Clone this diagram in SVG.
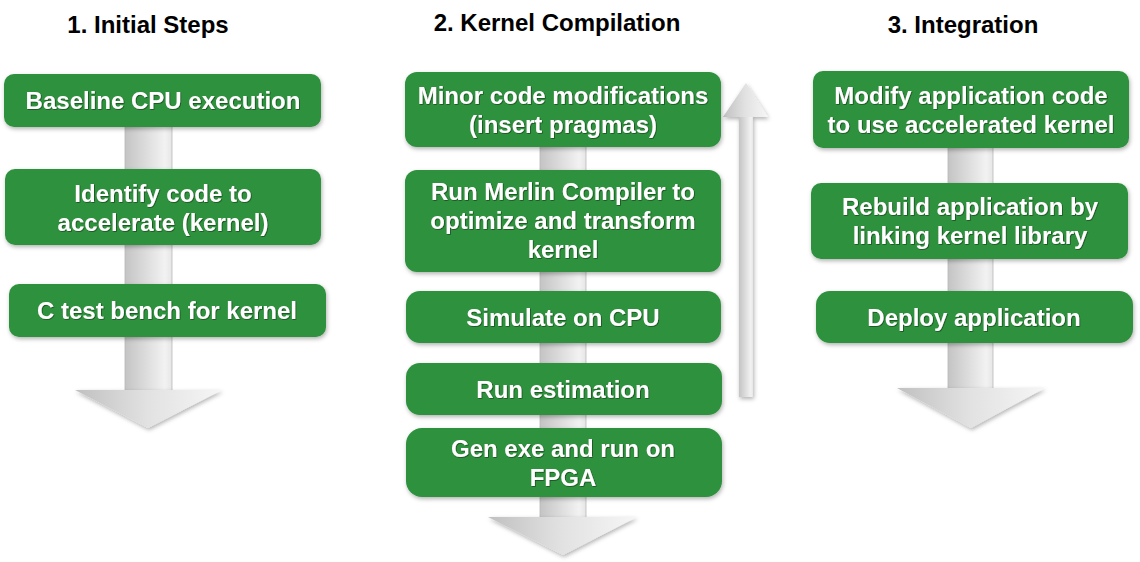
<svg xmlns="http://www.w3.org/2000/svg" width="1140" height="562" viewBox="0 0 1140 562">
<defs>
<linearGradient id="shaft" x1="0" y1="0" x2="1" y2="0">
<stop offset="0" stop-color="#c4c4c4"/>
<stop offset="0.85" stop-color="#f2f2f2"/>
<stop offset="1" stop-color="#e6e6e6"/>
</linearGradient>
<linearGradient id="head" x1="0" y1="0" x2="1" y2="0">
<stop offset="0" stop-color="#c0c0c0"/>
<stop offset="0.5" stop-color="#e2e2e2"/>
<stop offset="1" stop-color="#f6f6f6"/>
</linearGradient>
<filter id="sh" x="-10%" y="-20%" width="120%" height="150%">
<feDropShadow dx="1" dy="2" stdDeviation="2" flood-color="#000" flood-opacity="0.3"/>
</filter>
<filter id="ts" x="-5%" y="-20%" width="110%" height="150%">
<feDropShadow dx="0.7" dy="0.7" stdDeviation="0.4" flood-color="#0a3010" flood-opacity="0.8"/>
</filter>
</defs>
<style>
.title{font-family:"Liberation Sans",Arial,sans-serif;font-weight:bold;font-size:24px;fill:#000;text-anchor:middle}
.box{fill:#2e913e;filter:url(#sh)}
.lbl{font-family:"Liberation Sans",Arial,sans-serif;font-weight:bold;font-size:24px;fill:#fff;text-anchor:middle;filter:url(#ts)}
.shaft{fill:url(#shaft);stroke:#b8b8b8;stroke-width:0.8}
.head{fill:url(#head)}
</style>
<rect width="1140" height="562" fill="#fff"/>
<text class="title" x="148" y="33">1. Initial Steps</text>
<text class="title" x="557" y="31">2. Kernel Compilation</text>
<text class="title" x="963" y="33">3. Integration</text>
<g id="connectors">
<rect class="shaft" x="125" y="110" width="47" height="282"/>
<polygon class="head" points="75,390 222,390 148,428" filter="url(#sh)"/>
<rect class="shaft" x="540" y="130" width="46" height="390"/>
<polygon class="head" points="488,517 637,517 563,555" filter="url(#sh)"/>
<rect class="shaft" x="948" y="130" width="45" height="260"/>
<polygon class="head" points="897,388 1045,388 971,428" filter="url(#sh)"/>
<g filter="url(#sh)">
<rect x="739" y="115" width="14" height="282" fill="url(#shaft)"/>
<polygon points="746,83 768,117 723,117" fill="url(#head)"/>
</g>
</g>
<g id="n1"><rect class="box" x="4" y="74" width="317" height="53" rx="10"/><text class="lbl" x="163" y="109">Baseline CPU execution</text></g>
<g id="n2"><rect class="box" x="5" y="169" width="316" height="76" rx="10"/><text class="lbl" x="163" y="202">Identify code to</text><text class="lbl" x="163" y="231">accelerate (kernel)</text></g>
<g id="n3"><rect class="box" x="9" y="284" width="317" height="53" rx="10"/><text class="lbl" x="167" y="319">C test bench for kernel</text></g>
<g id="n4"><rect class="box" x="405" y="72" width="316" height="75" rx="12"/><text class="lbl" x="563" y="104">Minor code modifications</text><text class="lbl" x="563" y="133">(insert pragmas)</text></g>
<g id="n5"><rect class="box" x="405" y="170" width="316" height="102" rx="12"/><text class="lbl" x="563" y="200">Run Merlin Compiler to</text><text class="lbl" x="563" y="229">optimize and transform</text><text class="lbl" x="563" y="258">kernel</text></g>
<g id="n6"><rect class="box" x="406" y="291" width="315" height="52" rx="14"/><text class="lbl" x="563" y="326">Simulate on CPU</text></g>
<g id="n7"><rect class="box" x="406" y="363" width="316" height="52" rx="14"/><text class="lbl" x="563" y="398">Run estimation</text></g>
<g id="n8"><rect class="box" x="406" y="428" width="316" height="69" rx="16"/><text class="lbl" x="563" y="457">Gen exe and run on</text><text class="lbl" x="563" y="486">FPGA</text></g>
<g id="n9"><rect class="box" x="813" y="71" width="316" height="77" rx="10"/><text class="lbl" x="971" y="104">Modify application code</text><text class="lbl" x="971" y="133">to use accelerated kernel</text></g>
<g id="n10"><rect class="box" x="811" y="183" width="317" height="76" rx="10"/><text class="lbl" x="970" y="215">Rebuild application by</text><text class="lbl" x="970" y="244">linking kernel library</text></g>
<g id="n11"><rect class="box" x="816" y="291" width="317" height="52" rx="14"/><text class="lbl" x="974" y="326">Deploy application</text></g>
</svg>
